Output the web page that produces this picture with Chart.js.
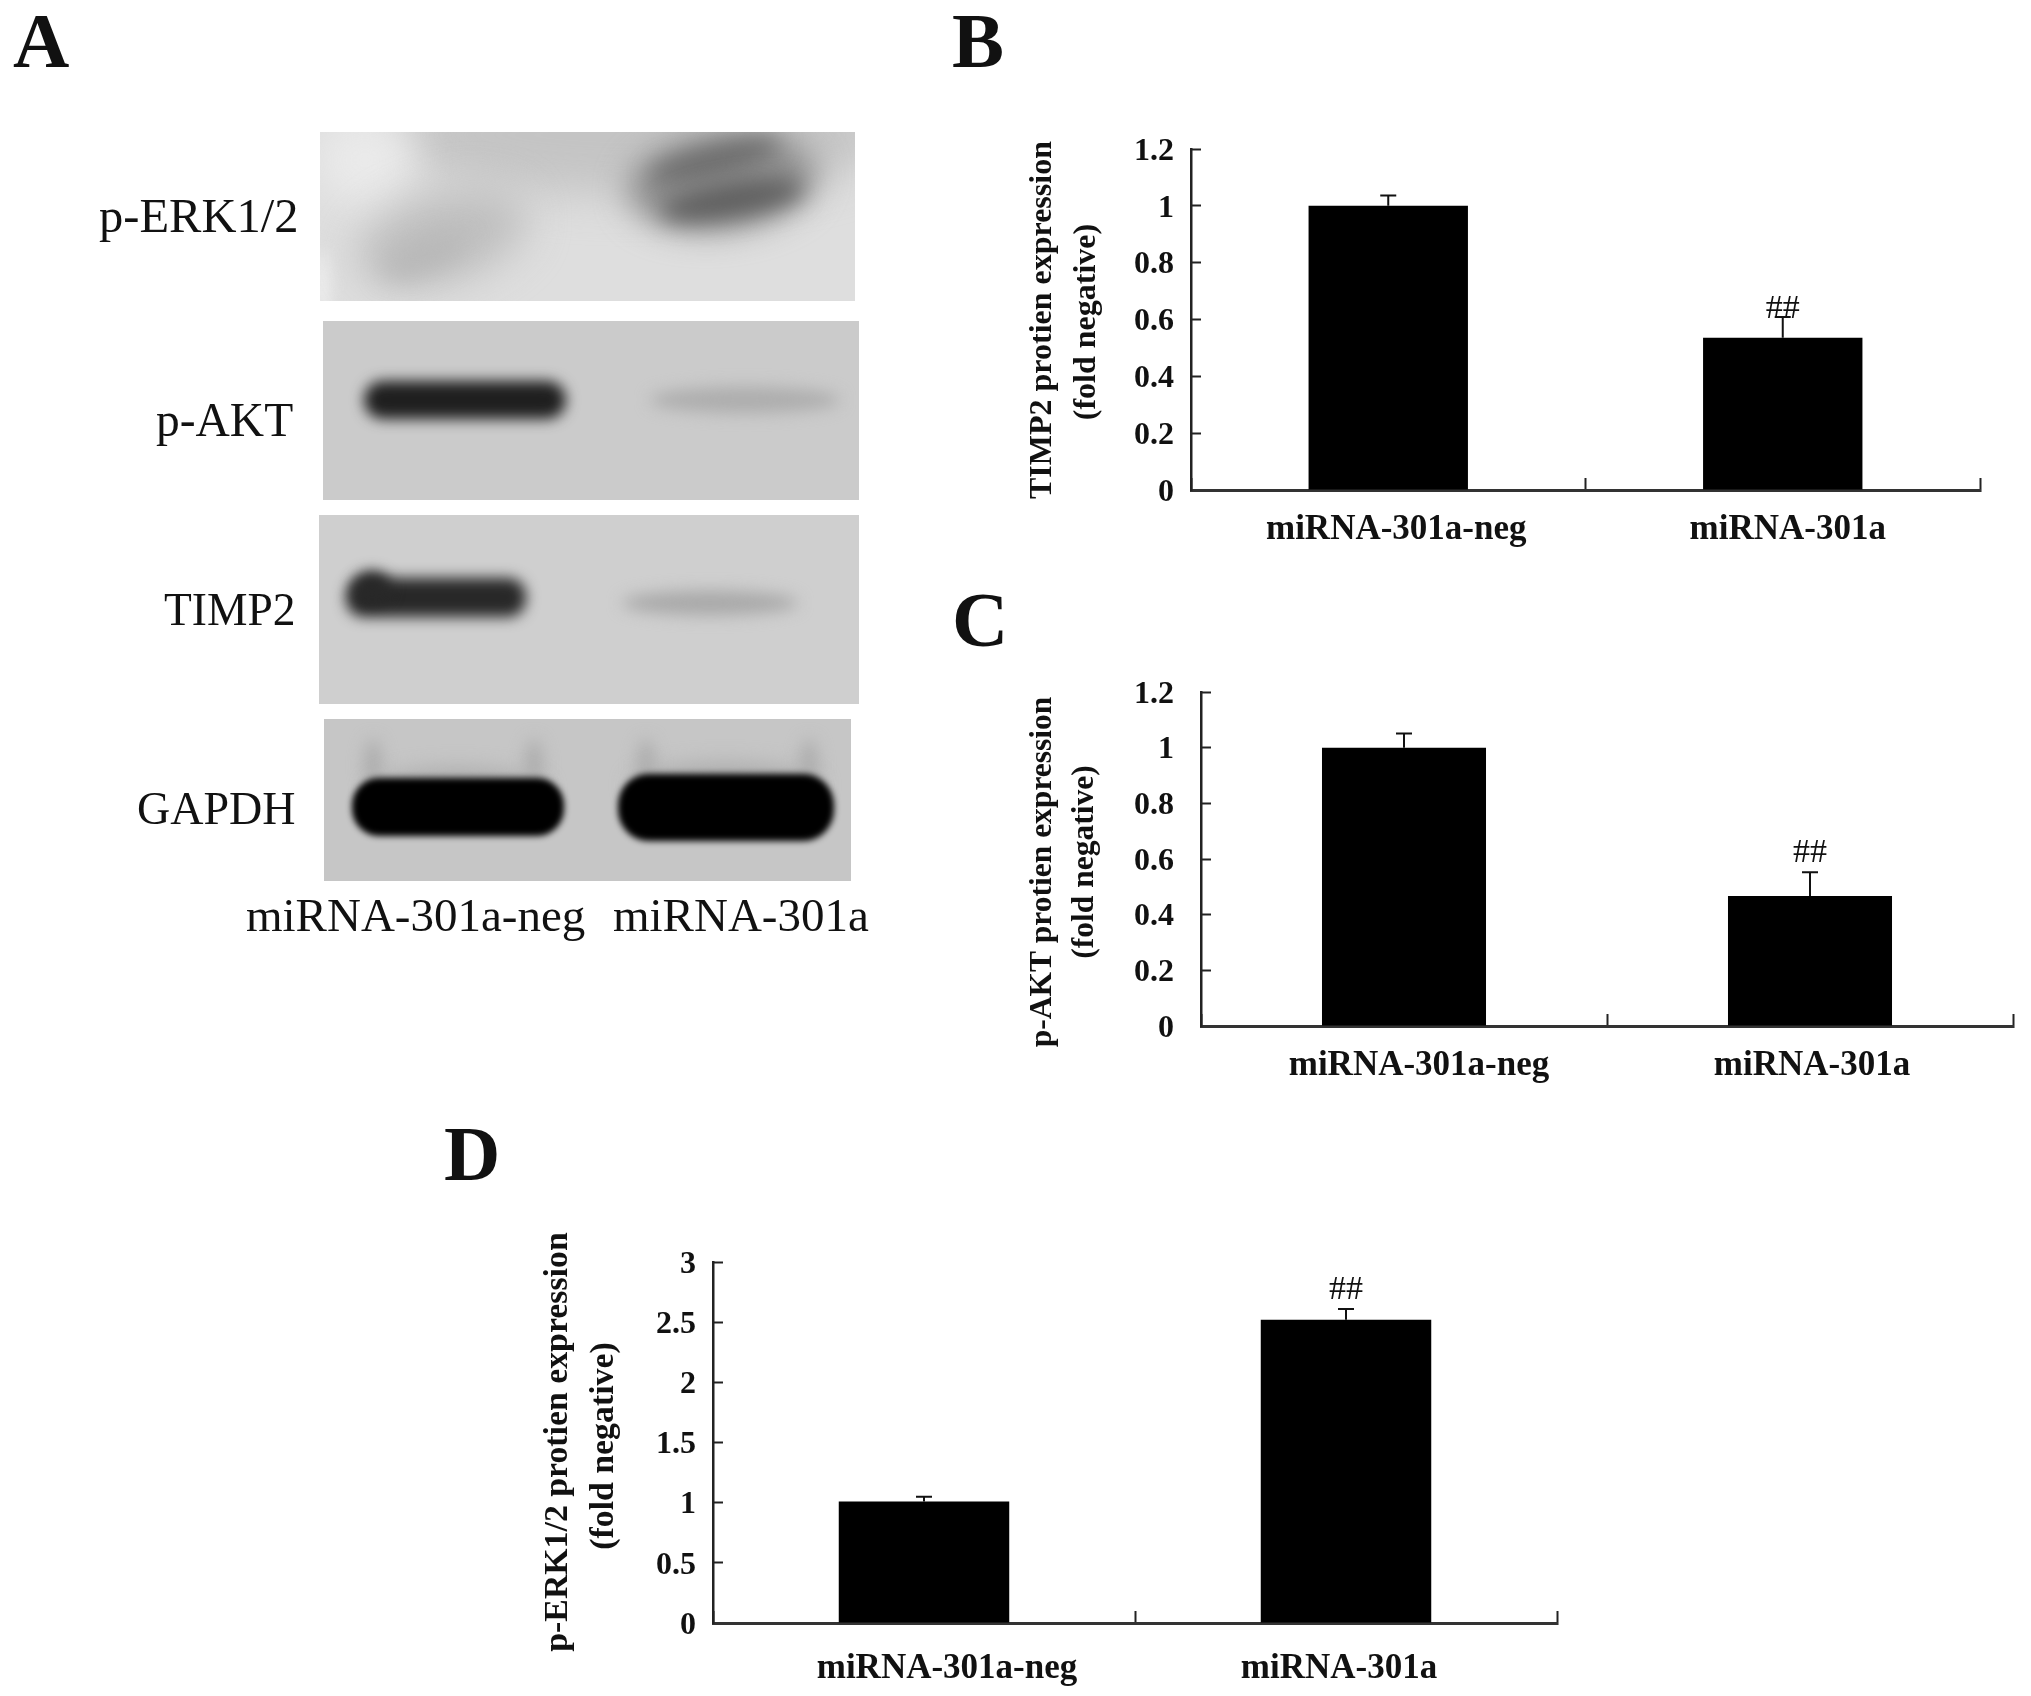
<!DOCTYPE html>
<html>
<head>
<meta charset="utf-8">
<title>miRNA-301a western blot and protein expression</title>
<script src="https://cdn.jsdelivr.net/npm/chart.js@4"></script>
<style>
	html, body { margin: 0; padding: 0; background: #fff; }
	body { position: relative; width: 2031px; height: 1696px; overflow: hidden; }
	canvas, .label { position: absolute; filter: blur(0.6px); }
	.label { font-family: "Liberation Serif", serif; line-height: 1; white-space: nowrap; color: #111; }
</style>
</head>
<body>
<canvas id="blots" width="900" height="900" style="left:0;top:0"></canvas>
<canvas id="chart-b"></canvas>
<canvas id="chart-c"></canvas>
<canvas id="chart-d"></canvas>
<script>
(function() {
	'use strict';

	// Values
	const categories = ['miRNA-301a-neg', 'miRNA-301a'];
	const smallTicks = ['0', '0.2', '0.4', '0.6', '0.8', '1', '1.2'];
	const erkTicks = ['0', '0.5', '1', '1.5', '2', '2.5', '3'];
	const timp2Values = [1, 0.536];
	const timp2Errors = [0.036, 0.073];
	const aktValues = [1, 0.467];
	const aktErrors = [0.051, 0.085];
	const erkValues = [1.01, 2.52];
	const erkErrors = [0.04, 0.09];
	const sigMark = '##';

	const SERIF = '"Liberation Serif", serif';
	const LEFT_GUTTER = 200;
	const TOP_GUTTER = 40;
	const BOTTOM_GUTTER = 70;

	/**
	 * Whiskers above the bars and the significance mark over the second bar
	 */
	function errorBarsPlugin(errors, markGap) {
		return {
			id: 'errorBars',
			afterDatasetsDraw(chart) {
				const ctx = chart.ctx;
				const bars = chart.getDatasetMeta(0).data;
				const values = chart.data.datasets[0].data;
				ctx.save();
				ctx.strokeStyle = '#111';
				ctx.fillStyle = '#111';
				ctx.lineWidth = 2;
				bars.forEach((bar, i) => {
					const top = chart.scales.y.getPixelForValue(values[i] + errors[i]);
					ctx.beginPath();
					ctx.moveTo(bar.x, bar.y);
					ctx.lineTo(bar.x, top);
					ctx.moveTo(bar.x - 8, top);
					ctx.lineTo(bar.x + 8, top);
					ctx.stroke();
					if (i === 1) {
						ctx.font = '34px ' + SERIF;
						ctx.textAlign = 'center';
						ctx.textBaseline = 'alphabetic';
						ctx.fillText(sigMark, bar.x, top - markGap);
					}
				});
				ctx.restore();
			}
		};
	}

	/**
	 * Rotated y captions, which sit off-centre in the original so the scale title can't be used
	 */
	function captionsPlugin(captions, plot, size) {
		return {
			id: 'captions',
			afterDraw(chart) {
				const ctx = chart.ctx;
				captions.forEach(c => {
					ctx.save();
					ctx.translate(c.x - plot.left + LEFT_GUTTER, c.y - plot.top + TOP_GUTTER);
					ctx.rotate(-Math.PI / 2);
					ctx.font = 'bold ' + size + 'px ' + SERIF;
					ctx.fillStyle = '#111';
					ctx.textAlign = 'center';
					ctx.textBaseline = 'middle';
					ctx.fillText(c.text, 0, 0);
					ctx.restore();
				});
			}
		};
	}

	/**
	 * The category labels are not quite centred under the bars in the original
	 */
	function labelNudgePlugin(nudges) {
		return {
			id: 'labelNudge',
			beforeDraw(chart) {
				const scale = chart.scales.x;
				scale.getLabelItems().forEach((item, i) => {
					item.options.translation[0] = scale.getPixelForTick(i) + nudges[i];
				});
			}
		};
	}

	function buildPanel(id, cfg) {
		const canvas = document.getElementById(id);
		const plot = cfg.plot;
		canvas.width = plot.right - plot.left + LEFT_GUTTER + 14;
		canvas.height = plot.bottom - plot.top + TOP_GUTTER + BOTTOM_GUTTER;
		canvas.style.left = (plot.left - LEFT_GUTTER) + 'px';
		canvas.style.top = (plot.top - TOP_GUTTER) + 'px';

		return new Chart(canvas.getContext('2d'), {
			type: 'bar',
			data: {
				labels: categories,
				datasets: [{
					data: cfg.values,
					backgroundColor: '#000',
					borderWidth: 0,
					categoryPercentage: 1,
					barPercentage: 0.404
				}]
			},
			options: {
				responsive: false,
				animation: false,
				devicePixelRatio: 1,
				layout: { padding: { top: TOP_GUTTER, right: 14, left: 0, bottom: 0 } },
				plugins: { legend: { display: false }, tooltip: { enabled: false } },
				scales: {
					x: {
						afterFit(scale) {
							scale.height = BOTTOM_GUTTER;
							scale.paddingLeft = 0;
							scale.paddingRight = 0;
						},
						border: { color: '#333', width: 3 },
						grid: { drawOnChartArea: false, tickLength: -12, tickColor: '#222', tickWidth: 2 },
						ticks: {
							color: '#111',
							padding: cfg.labelPad,
							autoSkip: false,
							maxRotation: 0,
							font: { family: SERIF, size: 35, weight: 'bold' }
						}
					},
					y: {
						min: 0,
						max: cfg.max,
						afterFit(scale) {
							// keep the plot box where the page puts it, whatever the label sizes
							scale.width = LEFT_GUTTER;
							scale.paddingTop = 0;
							scale.paddingBottom = 0;
						},
						border: { color: '#222', width: 2.5 },
						grid: { drawOnChartArea: false, tickLength: -10, tickColor: '#222', tickWidth: 2 },
						ticks: {
							stepSize: cfg.max / 6,
							color: '#111',
							padding: cfg.tickPad,
							labelOffset: 2.5,
							font: { family: SERIF, size: 32, weight: 'bold' },
							callback: (value, index) => cfg.ticks[index]
						}
					}
				}
			},
			plugins: [
				errorBarsPlugin(cfg.errors, cfg.markGap),
				captionsPlugin(cfg.captions, plot, cfg.captionSize),
				labelNudgePlugin(cfg.nudges)
			]
		});
	}

	buildPanel('chart-b', {
		plot: { left: 1191, top: 149, right: 1980, bottom: 490 },
		values: timp2Values, errors: timp2Errors, ticks: smallTicks, max: 1.2, markGap: -1,
		nudges: [8, 5], labelPad: 31, tickPad: 27, captionSize: 32,
		captions: [
			{ text: 'TIMP2 protien expression', x: 1043, y: 320 },
			{ text: '(fold negative)', x: 1087, y: 322 }
		]
	});

	buildPanel('chart-c', {
		plot: { left: 1201, top: 692, right: 2013, bottom: 1026 },
		values: aktValues, errors: aktErrors, ticks: smallTicks, max: 1.2, markGap: 10,
		nudges: [15, 2], labelPad: 31, tickPad: 37, captionSize: 31.5,
		captions: [
			{ text: 'p-AKT protien expression', x: 1043, y: 872 },
			{ text: '(fold negative)', x: 1085, y: 862 }
		]
	});

	buildPanel('chart-d', {
		plot: { left: 713, top: 1262, right: 1557, bottom: 1623 },
		values: erkValues, errors: erkErrors, ticks: erkTicks, max: 3, markGap: 10,
		nudges: [23, -7], labelPad: 37, tickPad: 27, captionSize: 33.8,
		captions: [
			{ text: 'p-ERK1/2 protien expression', x: 558, y: 1442 },
			{ text: '(fold negative)', x: 604, y: 1446 }
		]
	});

	// Panel letters and the blot labels, placed by baseline
	const pageLabels = [
		['A', 13, 67, 78, 'bold'], ['B', 952, 67, 78, 'bold'],
		['C', 952, 646, 78, 'bold'], ['D', 444, 1180, 78, 'bold'],
		['p-ERK1/2', 99, 233, 48.5, 'normal'], ['p-AKT', 156, 437, 47.5, 'normal'],
		['TIMP2', 164, 625, 45.5, 'normal'], ['GAPDH', 137, 825, 46, 'normal'],
		['miRNA-301a-neg', 246, 931, 47, 'normal'], ['miRNA-301a', 613, 931, 47, 'normal']
	];
	pageLabels.forEach(([text, x, baseline, size, weight]) => {
		const div = document.createElement('div');
		div.className = 'label';
		div.textContent = text;
		div.style.left = x + 'px';
		div.style.top = (baseline - 0.8375 * size) + 'px';
		div.style.fontSize = size + 'px';
		div.style.fontWeight = weight;
		document.body.appendChild(div);
	});

	/**
	 * Panel A photographs, painted as soft blobs on grey
	 */
	function paintBlot(ctx, rect, bg, blobs) {
		const [x, y, w, h] = rect;
		ctx.save();
		ctx.beginPath();
		ctx.rect(x, y, w, h);
		ctx.clip();
		ctx.fillStyle = bg;
		ctx.fillRect(x, y, w, h);
		blobs.forEach(b => {
			ctx.filter = 'blur(' + b.blur + 'px)';
			ctx.fillStyle = b.color;
			ctx.beginPath();
			if (b.r !== undefined) {
				ctx.roundRect(b.x, b.y, b.w, b.h, b.r);
			} else {
				ctx.ellipse(b.cx, b.cy, b.rx, b.ry, b.tilt || 0, 0, Math.PI * 2);
			}
			ctx.fill();
		});
		ctx.restore();
	}

	const blotCtx = document.getElementById('blots').getContext('2d');

	paintBlot(blotCtx, [320, 132, 535, 169], '#dedede', [
		{ cx: 640, cy: 135, rx: 250, ry: 60, blur: 22, color: '#c4c4c4' },
		{ cx: 365, cy: 160, rx: 50, ry: 45, blur: 20, color: '#eaeaea' },
		{ cx: 322, cy: 285, rx: 8, ry: 35, blur: 8, color: '#eeeeee' },
		{ cx: 442, cy: 238, rx: 88, ry: 44, tilt: -0.3, blur: 20, color: '#bfbfbf' },
		{ cx: 425, cy: 255, rx: 45, ry: 16, tilt: -0.4, blur: 12, color: '#b8b8b8' },
		{ cx: 722, cy: 182, rx: 95, ry: 48, tilt: -0.12, blur: 16, color: '#8f8f8f' },
		{ cx: 715, cy: 160, rx: 68, ry: 14, tilt: -0.25, blur: 11, color: '#6c6c6c' },
		{ cx: 732, cy: 200, rx: 72, ry: 17, tilt: -0.17, blur: 11, color: '#606060' }
	]);

	paintBlot(blotCtx, [323, 321, 536, 179], '#cbcbcb', [
		{ x: 364, y: 381, w: 202, h: 38, r: 19, blur: 7, color: '#1f1f1f' },
		{ cx: 745, cy: 400, rx: 95, ry: 13, blur: 8, color: '#adadad' }
	]);

	paintBlot(blotCtx, [319, 515, 540, 189], '#cfcfcf', [
		{ x: 346, y: 578, w: 180, h: 39, r: 18, blur: 7, color: '#282828' },
		{ cx: 372, cy: 588, rx: 19, ry: 17, blur: 7, color: '#282828' },
		{ cx: 710, cy: 603, rx: 88, ry: 12, blur: 8, color: '#a8a8a8' }
	]);

	paintBlot(blotCtx, [324, 719, 527, 162], '#c6c6c6', [
		{ cx: 373, cy: 765, rx: 9, ry: 26, blur: 8, color: '#adadad' },
		{ cx: 534, cy: 765, rx: 9, ry: 26, blur: 8, color: '#adadad' },
		{ cx: 646, cy: 765, rx: 9, ry: 26, blur: 8, color: '#adadad' },
		{ cx: 809, cy: 765, rx: 9, ry: 26, blur: 8, color: '#adadad' },
		{ cx: 458, cy: 790, rx: 88, ry: 22, blur: 10, color: '#adadad' },
		{ cx: 725, cy: 785, rx: 95, ry: 22, blur: 10, color: '#adadad' },
		{ x: 352, y: 778, w: 212, h: 58, r: 27, blur: 3, color: '#000' },
		{ x: 618, y: 774, w: 216, h: 67, r: 31, blur: 3, color: '#000' }
	]);
})();
</script>
</body>
</html>
